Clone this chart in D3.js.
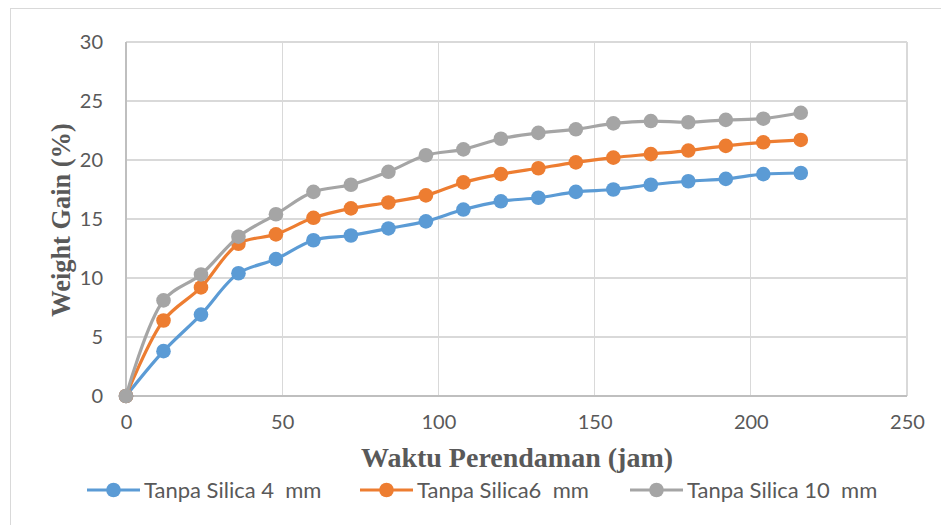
<!DOCTYPE html>
<html lang="en">
  <head>
    <meta charset="UTF-8">
    <script src="https://cdn.jsdelivr.net/npm/d3@7"></script>
    <style>
      body { margin: 0; background: #fff; }
      .axis text {
        font-family: Lato, 'Open Sans', sans-serif;
        font-size: 20px;
        fill: #595959;
      }
      .axis path, .axis line { stroke: none; }
      .grid line { stroke: #d9d9d9; stroke-width: 1.3; shape-rendering: crispEdges; }
      .title {
        font-family: 'Liberation Serif', 'Times New Roman', serif;
        font-weight: bold;
        fill: #595959;
      }
      .legend text {
        font-family: Lato, 'Open Sans', sans-serif;
        font-size: 22px;
        fill: #595959;
        white-space: pre;
      }
    </style>
    <title>Weight Gain</title>
  </head>
  <body>
    <script>
      // Data
      let hours = [0, 12, 24, 36, 48, 60, 72, 84, 96, 108, 120, 132, 144, 156, 168, 180, 192, 204, 216];
      let silica4 = [0, 3.8, 6.9, 10.4, 11.6, 13.2, 13.6, 14.2, 14.8, 15.8, 16.5, 16.8, 17.3, 17.5, 17.9, 18.2, 18.4, 18.8, 18.9];
      let silica6 = [0, 6.4, 9.2, 12.9, 13.7, 15.1, 15.9, 16.4, 17.0, 18.1, 18.8, 19.3, 19.8, 20.2, 20.5, 20.8, 21.2, 21.5, 21.7];
      let silica10 = [0, 8.1, 10.3, 13.5, 15.4, 17.3, 17.9, 19.0, 20.4, 20.9, 21.8, 22.3, 22.6, 23.1, 23.3, 23.2, 23.4, 23.5, 24.0];
      let seriesNames = ['Tanpa Silica 4  mm', 'Tanpa Silica6  mm', 'Tanpa Silica 10  mm'];
      let colors = ['#5b9bd5', '#ed7d31', '#a5a5a5'];
      let xTicks = [0, 50, 100, 150, 200, 250];
      let yTicks = [0, 5, 10, 15, 20, 25, 30];

      let w = 941, h = 525;
      let plotL = 126, plotR = 907, plotT = 42, plotB = 396;

      let xScale = d3.scaleLinear().domain([0, 250]).range([plotL, plotR]);
      let yScale = d3.scaleLinear().domain([0, 30]).range([plotB, plotT]);

      let svg = d3.select('body').append('svg')
                  .attr('width', w)
                  .attr('height', h);

      // chart border
      svg.append('rect')
          .attr('x', 10.5).attr('y', 8.5)
          .attr('width', w).attr('height', h)
          .attr('fill', 'none')
          .attr('stroke', '#d9d9d9');

      // gridlines
      let grid = svg.append('g').attr('class', 'grid');
      grid.selectAll('.hg')
          .data(yTicks)
          .enter().append('line')
          .attr('x1', plotL).attr('x2', plotR)
          .attr('y1', d => yScale(d)).attr('y2', d => yScale(d));
      grid.selectAll('.vg')
          .data(xTicks)
          .enter().append('line')
          .attr('x1', d => xScale(d)).attr('x2', d => xScale(d))
          .attr('y1', plotT).attr('y2', plotB);
      // axis baseline + left axis
      grid.append('line')
          .attr('x1', plotL).attr('x2', plotR)
          .attr('y1', plotB).attr('y2', plotB)
          .style('stroke', '#bfbfbf');
      grid.append('line')
          .attr('x1', plotL).attr('x2', plotL)
          .attr('y1', plotT).attr('y2', plotB)
          .style('stroke', '#bfbfbf');

      // axes
      svg.append('g')
          .attr('class', 'x axis')
          .attr('transform', 'translate(0,' + plotB + ')')
          .call(d3.axisBottom(xScale).tickValues(xTicks).tickSize(0).tickPadding(19));
      svg.append('g')
          .attr('class', 'y axis')
          .attr('transform', 'translate(' + plotL + ',0)')
          .call(d3.axisLeft(yScale).tickValues(yTicks).tickSize(0).tickPadding(23));

      // axis titles
      svg.append('text')
          .attr('class', 'title')
          .attr('x', 517).attr('y', 467)
          .attr('text-anchor', 'middle')
          .style('font-size', '28px')
          .text('Waktu Perendaman (jam)');
      svg.append('text')
          .attr('class', 'title')
          .attr('transform', 'translate(70,220) rotate(-90)')
          .attr('text-anchor', 'middle')
          .style('font-size', '26.4px')
          .text('Weight Gain (%)');

      // series
      let allSeries = [silica4, silica6, silica10];
      let line = d3.line()
                   .x((d, i) => xScale(hours[i]))
                   .y(d => yScale(d))
                   .curve(d3.curveCatmullRom.alpha(0.5));

      allSeries.forEach((vals, k) => {
        let g = svg.append('g');
        g.append('path')
          .datum(vals)
          .attr('d', line)
          .attr('fill', 'none')
          .attr('stroke', colors[k])
          .attr('stroke-width', 3.2);
        g.selectAll('circle')
          .data(vals)
          .enter().append('circle')
          .attr('cx', (d, i) => xScale(hours[i]))
          .attr('cy', d => yScale(d))
          .attr('r', 7.3)
          .attr('fill', colors[k]);
      });

      // legend
      let legendX = [87, 360, 630];
      let legend = svg.append('g').attr('class', 'legend');
      seriesNames.forEach((name, k) => {
        let lg = legend.append('g').attr('transform', 'translate(' + legendX[k] + ',490)');
        lg.append('line')
          .attr('x1', 0).attr('x2', 53)
          .attr('stroke', colors[k])
          .attr('stroke-width', 3.2);
        lg.append('circle')
          .attr('cx', 26.5).attr('r', 7.3)
          .attr('fill', colors[k]);
        lg.append('text')
          .attr('x', 57)
          .attr('dy', '0.35em')
          .text(name);
      });
    </script>
  </body>
</html>
